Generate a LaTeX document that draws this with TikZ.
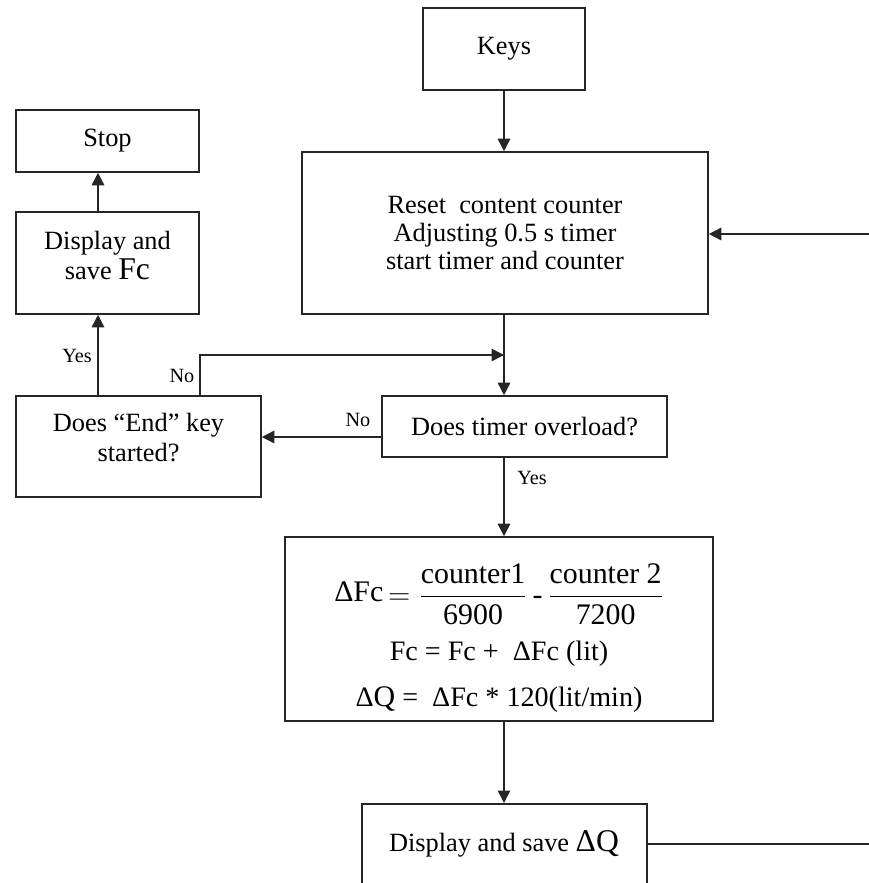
\documentclass[tikz,border=0pt]{standalone}
\usepackage{fontspec}
\setmainfont{Liberation Serif}
\usepackage{amsmath}
\usetikzlibrary{arrows.meta}

\tikzset{
  box/.style={draw=black!85, line width=0.9pt, inner sep=2pt, align=center, font=\fontsize{15}{17}\selectfont},
  boxsize/.style 2 args={minimum width=#1*0.2mm, minimum height=#2*0.2mm},
  arr/.style={draw=black!85, line width=0.9pt, -{Triangle[length=2.5mm,width=2.5mm]}},
  lnk/.style={draw=black!85, line width=0.9pt},
  tag/.style={font=\fontsize{11.5}{13}\selectfont, inner sep=0pt},
}

\begin{document}
\begin{tikzpicture}[x=0.2mm,y=-0.2mm]
\useasboundingbox (0,0) rectangle (869,883);
\clip (0,0) rectangle (869,883);
% \draw[lightgray] (0,0) grid (869,883);

\node[box,boxsize={162}{82}] (keys) at (504,49) {Keys};
\node[box,boxsize={406}{162},font=\fontsize{15}{16}\selectfont] (reset) at (505,233) {Reset\ \ content counter\\Adjusting 0.5 s timer\\start timer and counter};
\node[box,boxsize={183}{62}] (stop) at (107.5,141) {Stop};
\node[box,boxsize={183}{102}] (dispfc) at (107.5,263) {Display and\\save {\fontsize{18}{20}\selectfont Fc}\rule[-9pt]{0pt}{1pt}};
\node[box,boxsize={245}{101}] (endkey) at (138.5,446.5) {Does “End” key\\started?\rule[-10pt]{0pt}{1pt}};
\node[box,boxsize={285}{61}] (timer) at (524.5,426.5) {Does timer overload?};

% formula box, text set a bit lower than the centre
\node[box,boxsize={428}{184}] (formula) at (499,629) {};
\node[align=center,font=\fontsize{16}{19}\selectfont] (formulatxt) at (499,638) {%
{\fontsize{17}{20}\selectfont\raisebox{1.5pt}{ΔFc}$\,=\dfrac{\mbox{counter1}}{\mbox{6900}}\,\mbox{-}\,\dfrac{\mbox{counter 2}}{\mbox{7200}}$}\\[8pt]
Fc = Fc + \ ΔFc (lit)\\[7pt]
Δ{\fontsize{17}{19}\selectfont Q} = \ ΔFc * 120(lit/min)};

\node[box,boxsize={285}{164},anchor=north] (dispq) at (504.5,803) {};
\node[font=\fontsize{15}{17}\selectfont] (dispqtxt) at (504,844) {Display and save {\fontsize{18}{20}\selectfont ΔQ}};

\coordinate (join) at (504,355);
\coordinate (loopin) at (869,234);
\coordinate (outq) at (869,844);

\draw[arr] (keys) -- (keys |- reset.north);
\draw[lnk] (reset.south -| join) -- (join);
\draw[arr] (join) -- (join |- timer.north);
\draw[arr] (dispfc.east |- endkey.north) -- (dispfc.east |- join) -- (join);
\draw[arr] ([yshift=-2.1mm]timer.west) -- ([yshift=-2.1mm]timer.west -| endkey.east);
\draw[arr] ([xshift=-1.9mm]dispfc.south |- endkey.north) -- ([xshift=-1.9mm]dispfc.south);
\draw[arr] ([xshift=-1.9mm]dispfc.north) -- ([xshift=-1.9mm]stop.south);
\draw[arr] (join |- timer.south) -- (join |- formula.north);
\draw[arr] (join |- formula.south) -- (join |- dispq.north);
\draw[lnk] (dispq.east |- dispqtxt) -- (outq);
\draw[arr] (loopin) -- (reset.east |- loopin);

\node[tag] (yesend) at (77,356) {Yes};
\node[tag] (noend) at (182,376) {No};
\node[tag] (notimer) at (358,420) {No};
\node[tag] (yestimer) at (532,478) {Yes};

\end{tikzpicture}
\end{document}
